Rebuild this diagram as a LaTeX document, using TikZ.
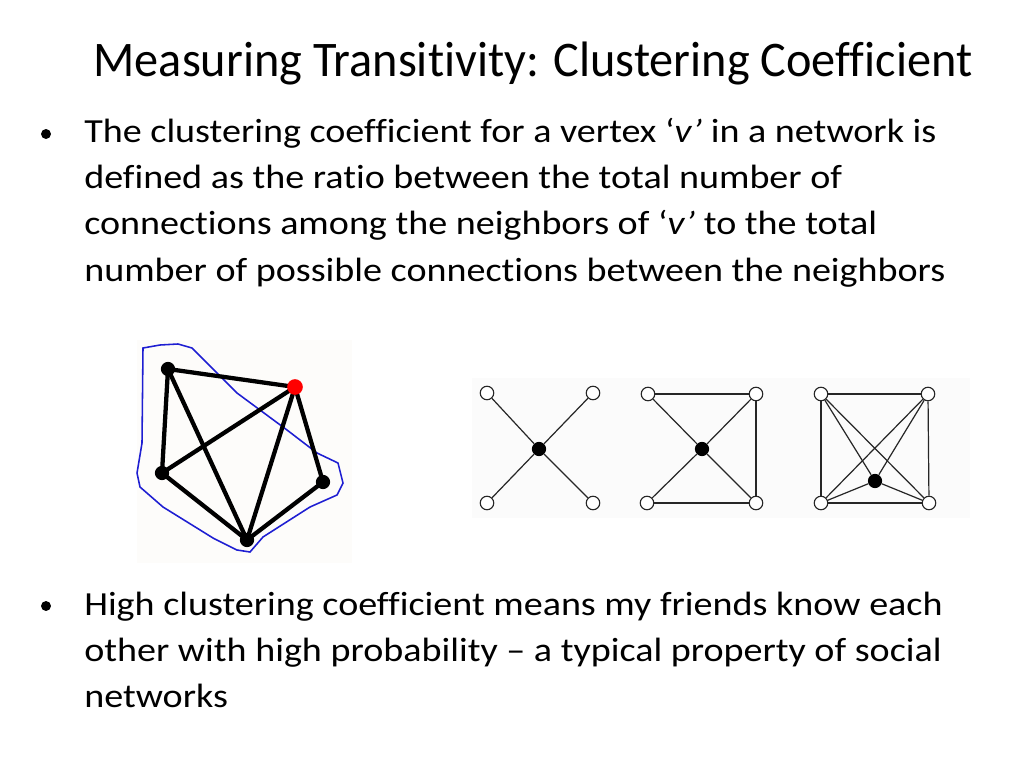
\documentclass[tikz,border=0pt]{standalone}
\usepackage{fontspec}
\setmainfont{Carlito}[Ligatures=NoCommon]
\newfontfamily\titlefont{Carlito}[Ligatures=NoCommon, FakeStretch=0.97]
\newfontfamily\bodyfont{Carlito}[Ligatures=NoCommon, FakeStretch=1.13]
\definecolor{outlineblue}{RGB}{30,30,210}
\definecolor{imgbg}{RGB}{253,252,250}
\begin{document}
\begin{tikzpicture}[x=0.703125pt,y=-0.703125pt,
  titletext/.style={font=\titlefont\fontsize{35}{40}\selectfont, inner sep=0pt, anchor=base},
  bodytext/.style={font=\bodyfont\fontsize{23.7}{30}\selectfont, inner sep=0pt, anchor=base west},
  bulletdot/.style={circle, fill=black, inner sep=0pt, minimum size=7pt},
  bignode/.style={circle, fill=black, inner sep=0pt, minimum size=10pt},
  rednode/.style={circle, fill=red, inner sep=0pt, minimum size=11pt},
  thickedge/.style={line width=3pt, black},
  opennode/.style={circle, draw=black!85, line width=0.8pt, fill=white, inner sep=0pt, minimum size=9.5pt},
  centernode/.style={circle, fill=black, inner sep=0pt, minimum size=10pt},
  thinedge/.style={line width=0.85pt, black!85}]
\useasboundingbox (0,0) rectangle (1024,768);
% title
\node[titletext] (title) at (533,77) {Measuring Transitivity: Clustering Coefficient};
% bullet 1
\node[bulletdot] (b1) at (46,134) {};
\node[bodytext] (l1) at (84,143) {The clustering coefficient for a vertex ‘\textit{v’} in a network is};
\node[bodytext] (l2) at (84,189) {defined as the ratio between the total number of};
\node[bodytext] (l3) at (84,235) {connections among the neighbors of ‘\textit{v’} to the total};
\node[bodytext] (l4) at (84,281) {number of possible connections between the neighbors};
% bullet 2
\node[bulletdot] (b2) at (46,606) {};
\node[bodytext] (m1) at (84,615) {High clustering coefficient means my friends know each};
\node[bodytext] (m2) at (84,661) {other with high probability – a typical property of social};
\node[bodytext] (m3) at (84,707) {networks};
% image backgrounds
\fill[imgbg] (137,340) rectangle (352,563);
\fill[black!1.5] (472,378) rectangle (970,518);
% graph 1
\draw[outlineblue, line width=1.1pt]
  (143,348) -- (160,345) -- (178,344) -- (192,348) -- (237,393) -- (287,430)
  -- (317,453) -- (338,463) -- (343,483) -- (337,495) -- (310,507) -- (263,537)
  -- (250,552) -- (237,550) -- (213,538) -- (163,507) -- (140,487) -- (137,473)
  -- (142,443) -- cycle;
\coordinate (gA) at (168,369);
\coordinate (gR) at (295,387);
\coordinate (gB) at (162,473);
\coordinate (gC) at (323,482);
\coordinate (gD) at (247,540);
\draw[thickedge] (gA) -- (gR);
\draw[thickedge] (gA) -- (gB);
\draw[thickedge] (gA) -- (gD);
\draw[thickedge] (gR) -- (gB);
\draw[thickedge] (gR) -- (gD);
\draw[thickedge] (gR) -- (gC);
\draw[thickedge] (gB) -- (gD);
\draw[thickedge] (gC) -- (gD);
\node[bignode] (nA) at (gA) {};
\node[bignode] (nB) at (gB) {};
\node[bignode] (nC) at (gC) {};
\node[bignode] (nD) at (gD) {};
\node[rednode] (nR) at (gR) {};
% graph 2
\node[centernode] (c2) at (539,449) {};
\node[opennode] (p2a) at (487,393) {};
\node[opennode] (p2b) at (593,393) {};
\node[opennode] (p2c) at (487,503) {};
\node[opennode] (p2d) at (593,503) {};
\foreach \n in {p2a,p2b,p2c,p2d} \draw[thinedge] (c2) -- (\n);
% graph 3
\node[centernode] (c3) at (702,449) {};
\node[opennode] (p3a) at (648,394) {};
\node[opennode] (p3b) at (756,394) {};
\node[opennode] (p3c) at (647,503) {};
\node[opennode] (p3d) at (756,503) {};
\foreach \n in {p3a,p3b,p3c,p3d} \draw[thinedge] (c3) -- (\n);
\draw[thinedge] (p3a) -- (p3b);
\draw[thinedge] (p3b) -- (p3d);
\draw[thinedge] (p3c) -- (p3d);
% graph 4
\node[centernode] (c4) at (875,481) {};
\node[opennode] (p4a) at (821,394) {};
\node[opennode] (p4b) at (928,394) {};
\node[opennode] (p4c) at (821,503) {};
\node[opennode] (p4d) at (929,503) {};
\foreach \n in {p4a,p4b,p4c,p4d} \draw[thinedge] (c4) -- (\n);
\draw[thinedge] (p4a) -- (p4b);
\draw[thinedge] (p4a) -- (p4c);
\draw[thinedge] (p4b) -- (p4d);
\draw[thinedge] (p4c) -- (p4d);
\draw[thinedge] (p4a) -- (p4d);
\draw[thinedge] (p4b) -- (p4c);
\end{tikzpicture}
\end{document}
